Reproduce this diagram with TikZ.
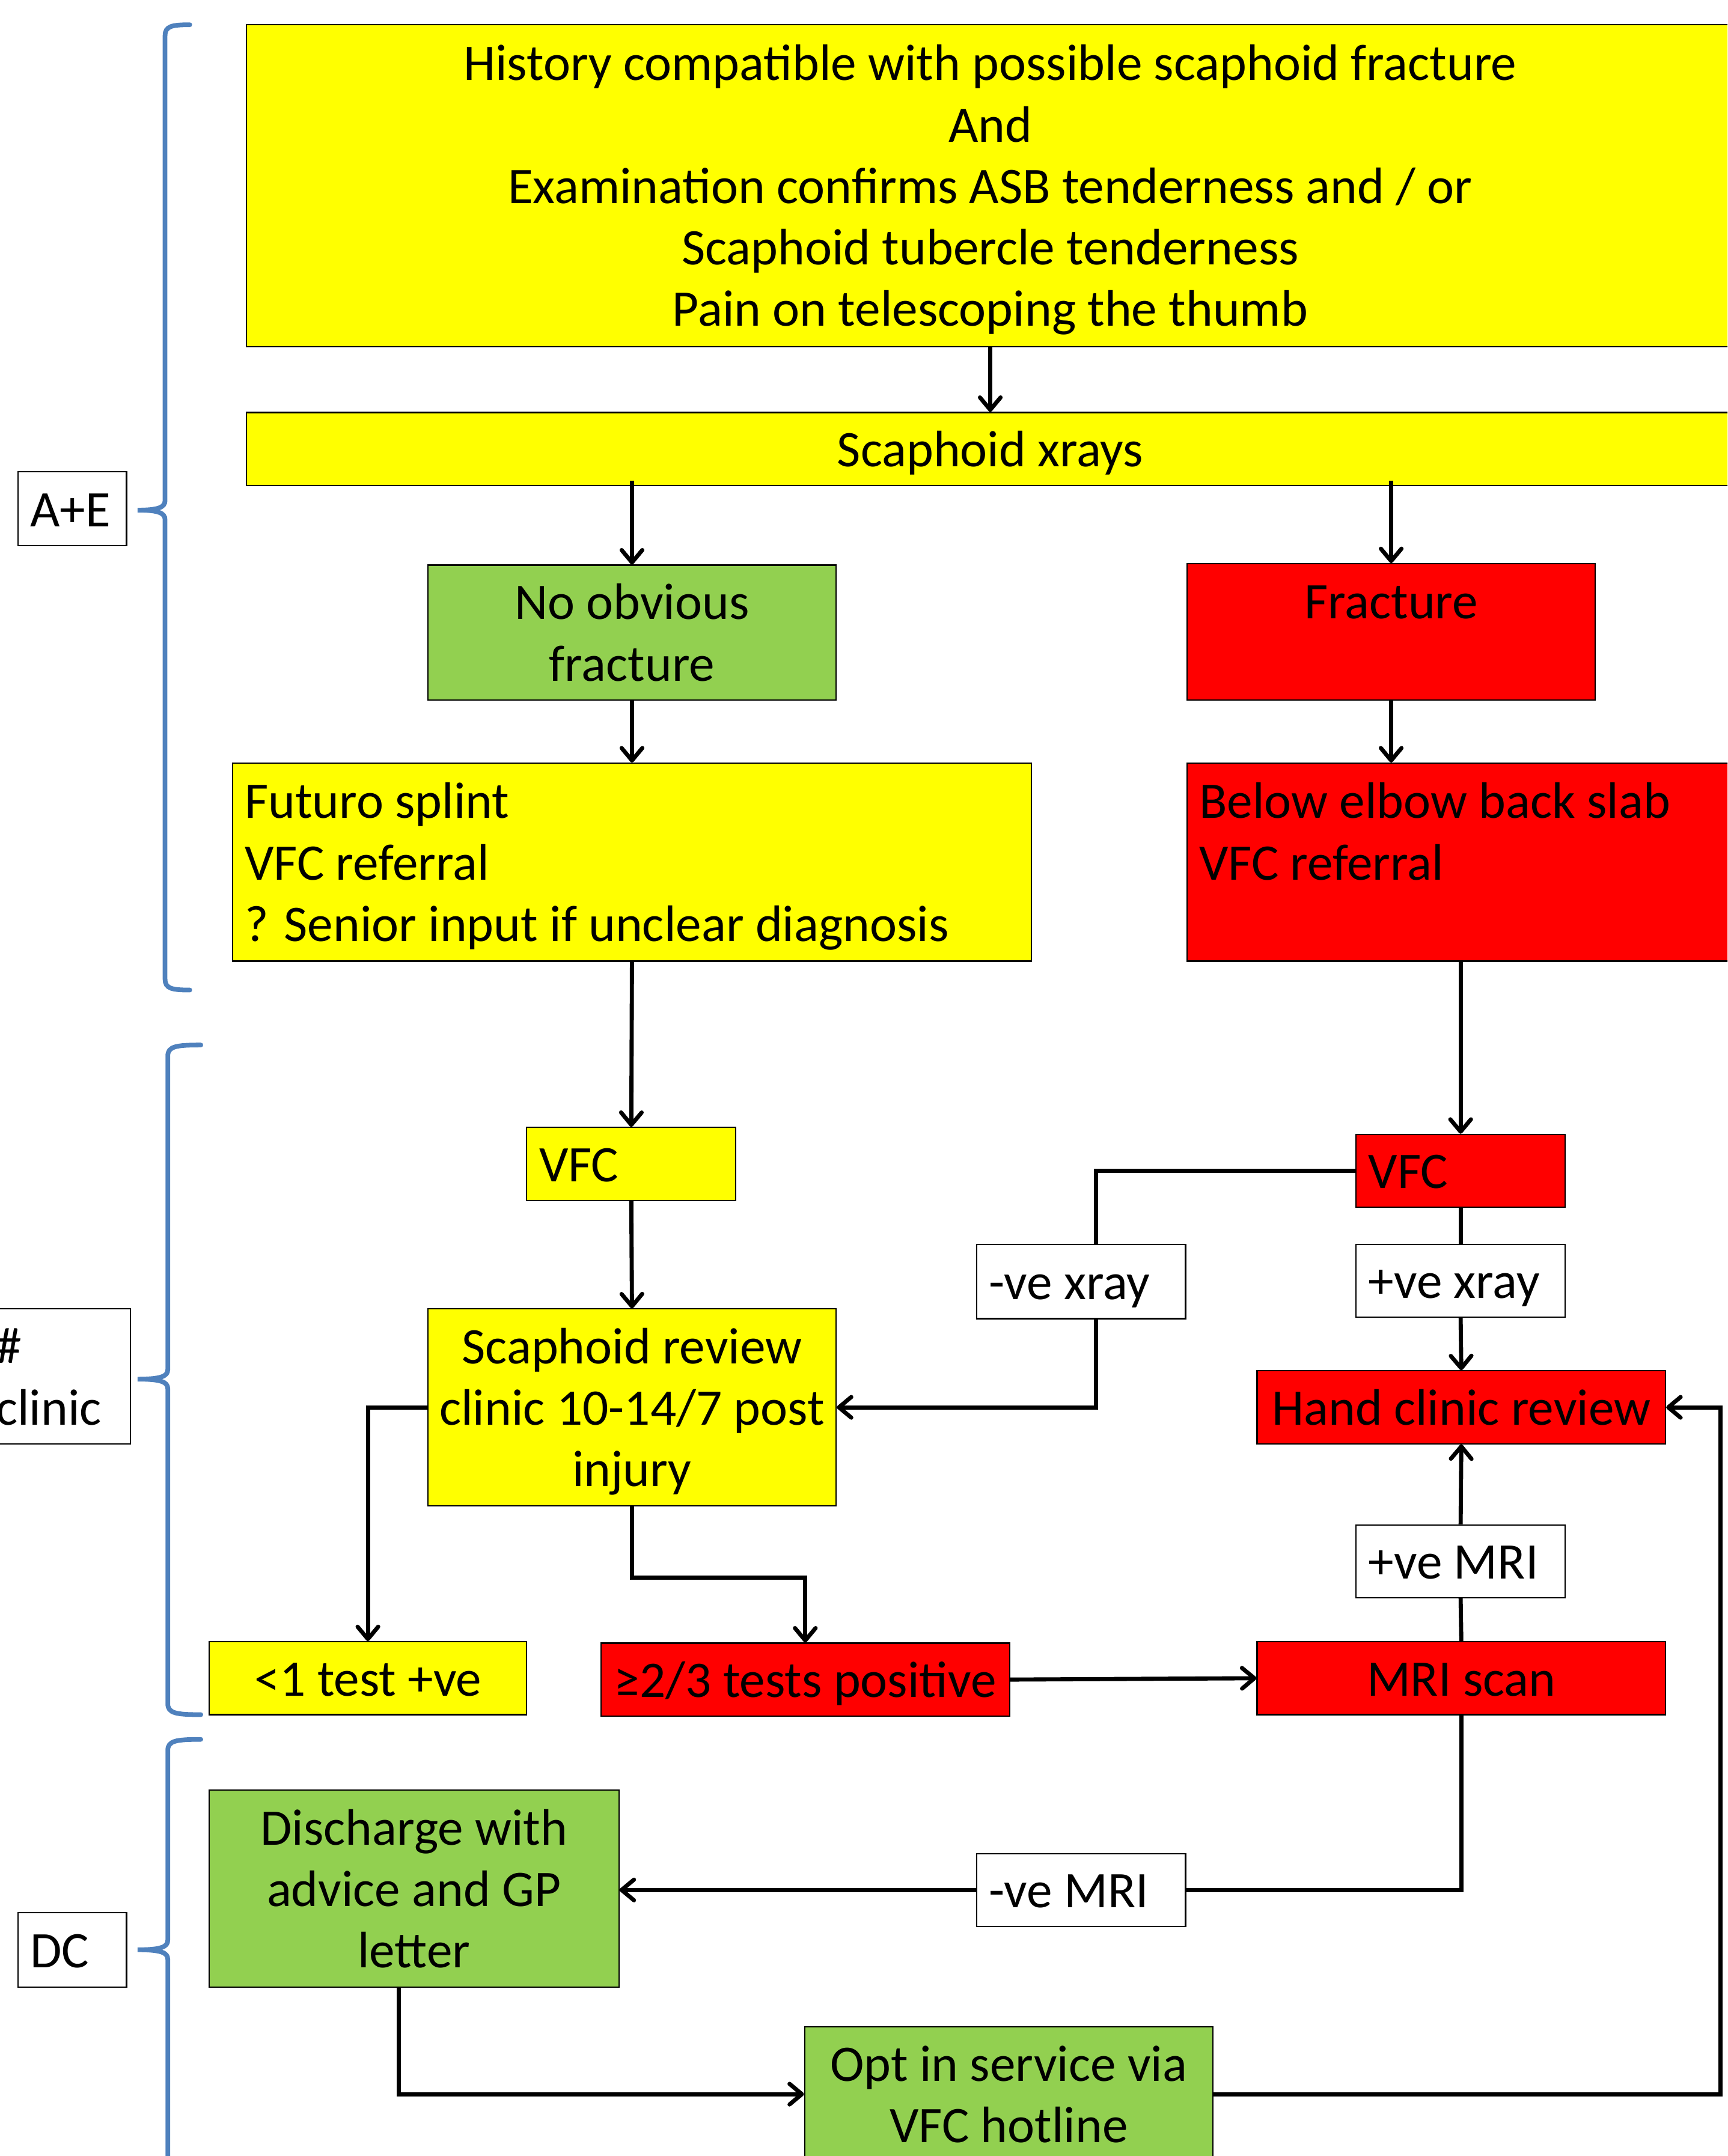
\documentclass[tikz,border=0pt]{standalone}
\usepackage{fontspec}
\setmainfont{Carlito}
\usetikzlibrary{arrows.meta,calc}
\definecolor{yel}{HTML}{FFFF00}
\definecolor{grn}{HTML}{92D050}
\definecolor{rd}{HTML}{FF0000}
\definecolor{brc}{HTML}{4F81BD}
\tikzset{
  bx/.style={draw=black, line width=0.9pt, rectangle, inner sep=0pt, inner xsep=4pt, align=flush center,
    font=\fontsize{37.3}{44.7}\selectfont,
    execute at begin node={\rule{0pt}{35pt}},
    execute at end node={\rule[-9.3pt]{0pt}{0pt}}},
  lbx/.style={bx, inner xsep=9pt, align=flush left},
  sz/.style 2 args={minimum width=#1pt, minimum height=#2pt, text width=#1pt-8pt},
  arr/.style={draw=black, line width=3pt, -{Straight Barb[length=9pt,width=15pt,line width=3pt,round]}},
  ln/.style={draw=black, line width=3pt},
  brace/.style={draw=brc, line width=3.4pt, line cap=round}
}
\begin{document}
\begin{tikzpicture}[x=1pt,y=-1pt]
\useasboundingbox (0,0) rectangle (1256,1568);
\clip (0,0) rectangle (1256,1568);
\fill[white] (0,0) rectangle (1256,1568);

% braces
\draw[brace] (138,18) .. controls (125,18) and (120,19) .. (120,26) -- (120,364) .. controls (120,369) and (115,371) .. (100,371)
  .. controls (115,371) and (120,373) .. (120,378) -- (120,712) .. controls (120,719) and (125,720) .. (138,720);
\draw[brace] (146,760) .. controls (128,760) and (122,761) .. (122,768) -- (122,996) .. controls (122,1001) and (117,1003) .. (100,1003)
  .. controls (117,1003) and (122,1005) .. (122,1010) -- (122,1239) .. controls (122,1246) and (128,1247) .. (146,1247);
\draw[brace] (146,1265) .. controls (128,1265) and (122,1266) .. (122,1273) -- (122,1411) .. controls (122,1416) and (117,1418) .. (100,1418)
  .. controls (117,1418) and (122,1420) .. (122,1425) -- (122,1600);

% side labels
\node[lbx, fill=white, sz={79}{54}, text width=61pt] (ae) at (52.5,370) {A+E};
\node[lbx, fill=white, sz={107}{98}, text width=89pt] (clin) at (41.5,1001) {\#\\clinic};
\node[lbx, fill=white, sz={79}{54}, text width=61pt] (dc) at (52.5,1418) {DC};

% main boxes
\node[bx, fill=yel, sz={1082}{234}] (hist) at (720,135) {History compatible with possible scaphoid fracture\\And\\Examination confirms ASB tenderness and / or\\Scaphoid tubercle tenderness\\Pain on telescoping the thumb};
\node[bx, fill=yel, sz={1082}{53}] (xray) at (720,326.5) {Scaphoid xrays};
\node[bx, fill=grn, sz={297}{98}] (noobv) at (459.5,460) {No obvious\\fracture};
\node[bx, fill=rd, sz={297}{99}] (frac) at (1011.5,459.5) {Fracture\\\mbox{}};
\node[lbx, fill=yel, sz={581}{144}, text width=563pt] (futuro) at (459.5,627) {Futuro splint\\VFC referral\\? Senior input if unclear diagnosis};
\node[lbx, fill=rd, sz={398}{144}, text width=380pt] (below) at (1062,627) {Below elbow back slab\\VFC referral\\\mbox{}};
\node[lbx, fill=yel, sz={152}{53}, text width=134pt] (vfcy) at (459,846.5) {VFC};
\node[lbx, fill=rd, sz={152}{53}, text width=134pt] (vfcr) at (1062,851.5) {VFC};
\node[lbx, fill=white, sz={152}{54}, text width=134pt] (negx) at (786,932) {-ve xray};
\node[lbx, fill=white, sz={152}{53}, text width=134pt] (posx) at (1062,931.5) {+ve xray};
\node[bx, fill=yel, sz={297}{143}] (review) at (459.5,1023.5) {Scaphoid review\\clinic 10-14/7 post\\injury};
\node[bx, fill=rd, sz={297}{53}] (hand) at (1062.5,1023.5) {Hand clinic review};
\node[lbx, fill=white, sz={152}{53}, text width=134pt] (posmri) at (1062,1135.5) {+ve MRI};
\node[bx, fill=yel, sz={231}{53}] (lt1) at (267.5,1220.5) {<1 test +ve};
\node[bx, fill=rd, sz={297}{53}] (ge2) at (585.5,1221.5) {≥2/3 tests positive};
\node[bx, fill=rd, sz={297}{53}] (mri) at (1062.5,1220.5) {MRI scan};
\node[bx, fill=grn, sz={298}{143}] (dis) at (301,1373.5) {Discharge with\\advice and GP\\letter};
\node[lbx, fill=white, sz={152}{53}, text width=134pt] (negmri) at (786,1374.5) {-ve MRI};
\node[bx, fill=grn, sz={297}{98}] (opt) at (733.5,1523) {Opt in service via\\VFC hotline};

\coordinate (rt) at (1251,1523);

% connectors
\draw[arr] (hist.south) -- (xray.north);
\draw[arr] ([yshift=4pt]xray.south -| noobv.north) -- (noobv.north);
\draw[arr] ([yshift=4pt]xray.south -| frac.north) -- (frac.north);
\draw[arr] (noobv.south) -- (noobv.south |- futuro.north);
\draw[arr] (frac.south) -- (frac.south |- below.north);
\draw[arr] (futuro.south) -- (vfcy.north);
\draw[arr] (below.south) -- (vfcr.north);
\draw[arr] (vfcy.south) -- (review.north);
\draw[ln] (vfcr.west) -| ([xshift=11pt]negx.north);
\draw[arr] ([xshift=11pt]negx.south) |- (review.east);
\draw[ln] (vfcr.south) -- (posx.north);
\draw[arr] (posx.south) -- (hand.north);
\draw[arr] (review.west) -| (lt1.north);
\draw[arr] (review.south) -- ++(0,52) -| (ge2.north);
\draw[arr] (ge2.east) -- (mri.west);
\draw[ln] (mri.north) -- (posmri.south);
\draw[arr] (posmri.north) -- (hand.south);
\draw[ln] (mri.south) |- (negmri.east);
\draw[arr] (negmri.west) -- (dis.east |- negmri.west);
\draw[arr] ([xshift=-11pt]dis.south) |- (opt.west);
\draw[arr] (opt.east) -- (rt) -- (rt |- hand.east) -- (hand.east);
\end{tikzpicture}
\end{document}
